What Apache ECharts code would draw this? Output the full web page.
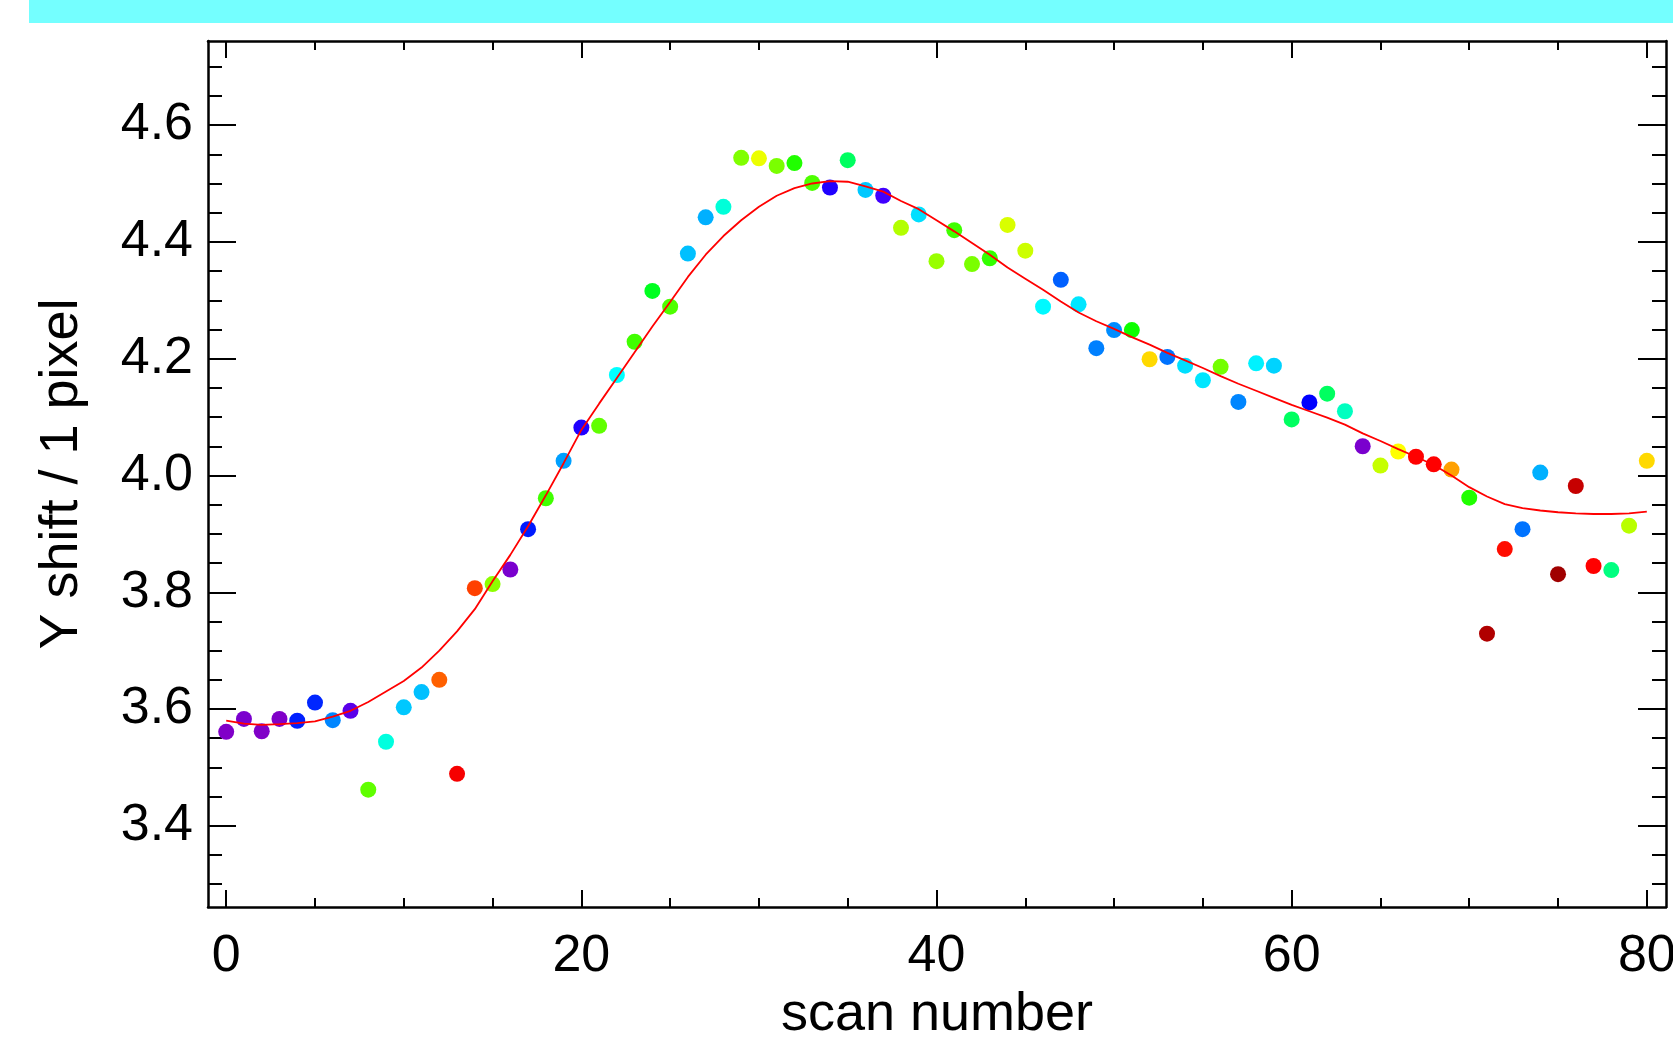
<!DOCTYPE html>
<html>
<head>
<meta charset="utf-8">
<script src="https://cdn.jsdelivr.net/npm/echarts@6/dist/echarts.min.js"></script>
<style>
html,body{margin:0;padding:0;background:#fff;}
#chart{width:1673px;height:1046px;}
</style>
</head>
<body>
<div id="chart"></div>
<script>
// ---- data ----
const scanNumber = Array.from({length: 81}, (_, i) => i);
const yShift = [
  3.561,3.583,3.562,3.583,3.580,3.611,3.581,3.597,3.462,3.544,
  3.603,3.629,3.650,3.489,3.807,3.814,3.839,3.908,3.961,4.025,
  4.082,4.085,4.172,4.229,4.316,4.289,4.380,4.442,4.460,4.544,
  4.543,4.530,4.535,4.501,4.493,4.540,4.489,4.479,4.424,4.447,
  4.367,4.420,4.362,4.372,4.429,4.385,4.289,4.335,4.293,4.218,
  4.249,4.249,4.199,4.203,4.188,4.163,4.186,4.126,4.192,4.188,
  4.096,4.125,4.140,4.110,4.050,4.017,4.041,4.032,4.019,4.010,
  3.962,3.729,3.874,3.908,4.005,3.831,3.982,3.845,3.838,3.914,4.025
];
// third quantity shown as point colour (rainbow index, 0..11)
const colorLevel = [
  0,0.1,0,0,2.25,2.3,3.05,0.6,6.75,4.25,
  3.57,3.5,9.25,10.1,9.5,7.1,0.1,2.2,6.5,3.25,
  1.5,6.75,4.0,6.5,5.75,6.6,3.5,3.38,4.3,7.0,
  7.85,6.95,6.25,6.6,1.5,5.25,3.57,1.0,7.4,3.75,
  7.2,6.5,6.95,6.4,7.7,7.6,3.95,2.75,3.8,3.0,
  3.1,6.1,8.3,2.9,3.75,3.8,6.9,3.05,3.9,3.65,
  5.25,2.0,5.25,4.5,0.1,7.55,8.0,10,10,8.75,
  6.25,10.83,9.9,2.9,3.38,11,10.6,10,5.0,7.45,8.3
];
const fitCurve = [
  3.580,3.575,3.573,3.574,3.576,3.579,3.587,3.597,3.612,3.630,
  3.648,3.671,3.700,3.733,3.771,3.819,3.864,3.913,3.966,4.021,
  4.078,4.123,4.167,4.211,4.255,4.297,4.340,4.378,4.410,4.437,
  4.460,4.479,4.492,4.500,4.504,4.503,4.495,4.486,4.470,4.456,
  4.437,4.418,4.398,4.378,4.356,4.337,4.318,4.298,4.279,4.264,
  4.251,4.237,4.224,4.210,4.197,4.184,4.170,4.157,4.145,4.133,
  4.121,4.110,4.099,4.087,4.072,4.059,4.045,4.032,4.018,4.000,
  3.980,3.964,3.951,3.944,3.940,3.937,3.935,3.934,3.934,3.935,3.938
];
const xMajorTicks = [0, 20, 40, 60, 80];
const xMinorTicks = [5,10,15,25,30,35,45,50,55,65,70,75];
const yMajorTicks = [3.4, 3.6, 3.8, 4.0, 4.2, 4.4, 4.6];
const yMinorTicks = [3.3,3.35,3.45,3.5,3.55,3.65,3.7,3.75,3.85,3.9,3.95,4.05,4.1,4.15,4.25,4.3,4.35,4.45,4.5,4.55,4.65,4.7];
const xRange = [-1.025, 81.08];
const yRange = [3.261, 4.744];

// ---- chart ----
const FONT = '"Liberation Sans", Arial, Helvetica, sans-serif';
const rainbow = ['#8000c8','#4000ff','#0000ff','#0080ff','#00ffff','#00ff80','#00ff00','#80ff00','#ffff00','#ff8000','#ff0000','#a00000'];

function xAx(pos, ticks, len, withLabel, withLine) {
  return {
    type: 'value', position: pos, min: xRange[0], max: xRange[1],
    splitLine: {show: false},
    axisLine: {show: withLine, onZero: false, lineStyle: {color: '#000', width: 2.5}},
    axisTick: {show: true, inside: true, length: len, customValues: ticks, lineStyle: {color: '#000', width: 2}},
    axisLabel: withLabel ? {show: true, customValues: xMajorTicks, color: '#000', fontSize: 52, fontFamily: FONT, margin: 24} : {show: false},
    name: withLabel ? 'scan number' : '',
    nameLocation: 'middle', nameGap: 76,
    nameTextStyle: {color: '#000', fontSize: 54, fontFamily: FONT}
  };
}
function yAx(pos, ticks, len, withLabel, withLine) {
  return {
    type: 'value', position: pos, min: yRange[0], max: yRange[1],
    splitLine: {show: false},
    axisLine: {show: withLine, onZero: false, lineStyle: {color: '#000', width: 2.5}},
    axisTick: {show: true, inside: true, length: len, customValues: ticks, lineStyle: {color: '#000', width: 2}},
    axisLabel: withLabel ? {show: true, customValues: yMajorTicks, color: '#000', fontSize: 52, fontFamily: FONT, margin: 15,
      formatter: v => v.toFixed(1)} : {show: false},
    name: withLabel ? 'Y shift / 1 pixel' : '',
    nameLocation: 'middle', nameGap: 119, nameRotate: 90,
    nameTextStyle: {color: '#000', fontSize: 54, fontFamily: FONT}
  };
}

const chart = echarts.init(document.getElementById('chart'), null, {renderer: 'canvas'});
chart.setOption({
  animation: false,
  backgroundColor: '#fff',
  grid: {left: 208, top: 41, width: 1458, height: 866, containLabel: false, outerBoundsMode: 'none'},
  xAxis: [
    xAx('bottom', xMajorTicks, 17, true, true),
    xAx('bottom', xMinorTicks, 9, false, false),
    xAx('top', xMajorTicks, 17, false, true),
    xAx('top', xMinorTicks, 9, false, false)
  ],
  yAxis: [
    yAx('left', yMajorTicks, 28, true, true),
    yAx('left', yMinorTicks, 14, false, false),
    yAx('right', yMajorTicks, 28, false, true),
    yAx('right', yMinorTicks, 14, false, false)
  ],
  visualMap: {
    show: false, type: 'continuous', seriesIndex: 0, dimension: 2,
    min: 0, max: 11, inRange: {color: rainbow}
  },
  graphic: [{
    type: 'rect', left: 29, top: 0, z: 100,
    shape: {width: 1644, height: 23},
    style: {fill: '#74ffff'}
  }],
  series: [
    {
      type: 'scatter', xAxisIndex: 0, yAxisIndex: 0,
      symbol: 'circle', symbolSize: 16,
      itemStyle: {opacity: 1},
      data: scanNumber.map((x, i) => [x, yShift[i], colorLevel[i]]),
      z: 2
    },
    {
      type: 'line', xAxisIndex: 0, yAxisIndex: 0,
      data: scanNumber.map((x, i) => [x, fitCurve[i]]),
      symbol: 'none', smooth: false,
      lineStyle: {color: '#ff0000', width: 1.8},
      z: 3
    }
  ]
});
</script>
</body>
</html>
